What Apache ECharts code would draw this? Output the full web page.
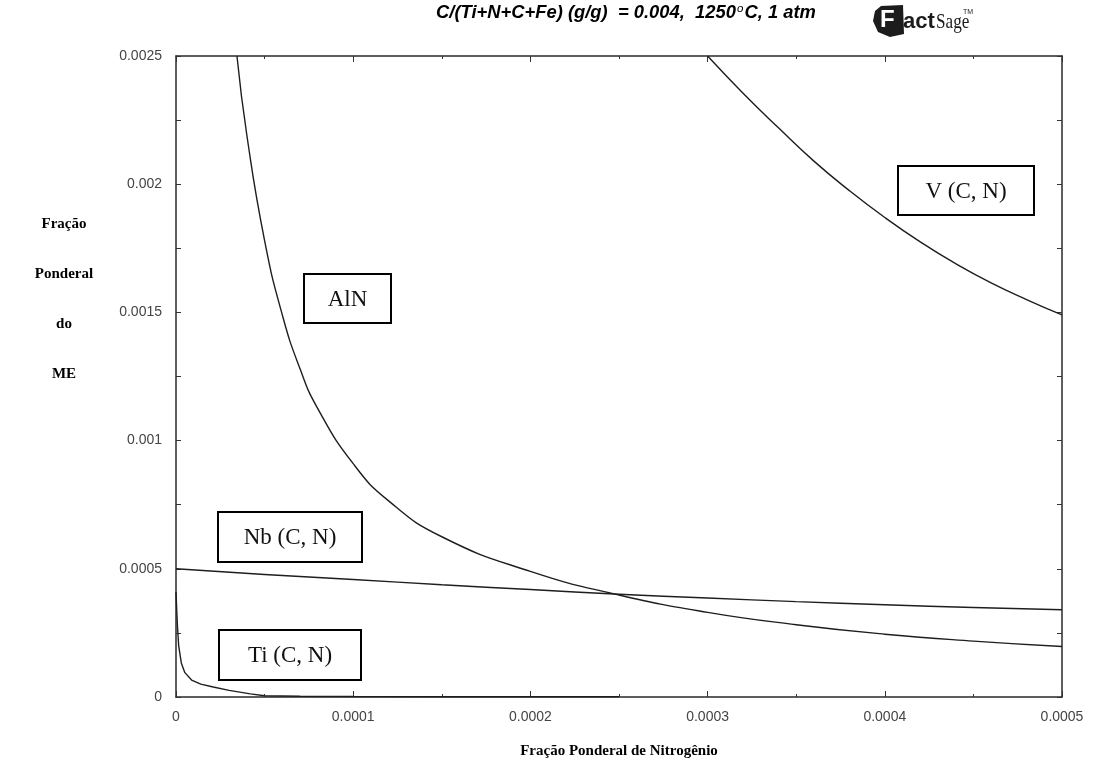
<!DOCTYPE html>
<html>
<head>
<meta charset="utf-8">
<script src="https://cdn.jsdelivr.net/npm/echarts@6/dist/echarts.min.js"></script>
<style>html,body{margin:0;padding:0;background:#fff;}#c{width:1093px;height:776px;}</style>
</head>
<body>
<div id="c"></div>
<script>
// ---- data ----
const xTickLabels = ['0', '0.0001', '0.0002', '0.0003', '0.0004', '0.0005'];
const yTickLabels = ['0', '0.0005', '0.001', '0.0015', '0.002', '0.0025'];

const vN   = [0.000300, 0.000320, 0.000340, 0.000360, 0.000380, 0.000400, 0.000420, 0.000440, 0.000460, 0.000480, 0.000500];
const vVal = [0.002500, 0.002355, 0.002220, 0.002090, 0.001975, 0.001870, 0.001775, 0.001690, 0.001615, 0.001550, 0.001490];

const alnN   = [0.0000344, 0.000040, 0.000050, 0.000060, 0.000070, 0.000080, 0.000100, 0.000120, 0.000150, 0.000200, 0.000250, 0.000300, 0.000350, 0.000400, 0.000450, 0.000500];
const alnVal = [0.002500, 0.002190, 0.001780, 0.001490, 0.001280, 0.001125, 0.000910, 0.000765, 0.000625, 0.000490, 0.000398, 0.000330, 0.000282, 0.000245, 0.000218, 0.000197];

const nbN   = [0, 0.00005, 0.00010, 0.00015, 0.00020, 0.00025, 0.00030, 0.00035, 0.00040, 0.00045, 0.00050];
const nbVal = [0.000500, 0.000478, 0.000458, 0.000438, 0.000419, 0.000401, 0.000386, 0.000372, 0.000360, 0.000349, 0.000340];

const tiN   = [0, 0.0000004, 0.0000008, 0.0000015, 0.000003, 0.000005, 0.0000088, 0.000014, 0.000021, 0.000030, 0.000042, 0.000050, 0.000070, 0.000100, 0.000150, 0.000250];
const tiVal = [0.000410, 0.000340, 0.000280, 0.000200, 0.000133, 0.000095, 0.000066, 0.000050, 0.000039, 0.000026, 0.000012, 0.000005, 0.000003, 0.000002, 0.000001, 0.000001];

const seriesNames = ['V (C, N)', 'AlN', 'Nb (C, N)', 'Ti (C, N)'];
const titleMain = 'C/(Ti+N+C+Fe) (g/g)  = 0.004,  1250';
const titleTail = 'C, 1 atm';
const yTitleLines = ['Fração', 'Ponderal', 'do', 'ME'];
const xTitle = 'Fração Ponderal de Nitrogênio';

function zip(a, b) { return a.map((x, i) => [x, b[i]]); }

const chart = echarts.init(document.getElementById('c'), null, {renderer: 'canvas'});
const lineColor = '#1e1e1e';
const labelFont = {fontFamily: 'Liberation Sans, Arial', fontSize: 14, color: '#444'};

function xAxisDef(pos, labels) {
  return {
    type: 'value', position: pos, min: 0, max: 0.0005, interval: 0.0001,
    axisLine: {show: true, onZero: false, lineStyle: {color: '#2a2a2a', width: 1.5}},
    axisTick: {show: true, inside: true, length: 6, lineStyle: {color: '#333'}},
    minorTick: {show: true, splitNumber: 2, length: 3, lineStyle: {color: '#333'}},
    splitLine: {show: false},
    axisLabel: labels ? Object.assign({show: true, margin: 13,
      formatter: v => xTickLabels[Math.round(v / 0.0001)]}, labelFont) : {show: false}
  };
}
function yAxisDef(pos, labels) {
  return {
    type: 'value', position: pos, min: 0, max: 0.0025, interval: 0.0005,
    axisLine: {show: true, onZero: false, lineStyle: {color: '#2a2a2a', width: 1.5}},
    axisTick: {show: true, inside: true, length: 5, lineStyle: {color: '#333'}},
    minorTick: {show: true, splitNumber: 2, length: 5, lineStyle: {color: '#333'}},
    splitLine: {show: false},
    axisLabel: labels ? Object.assign({show: true, margin: 14,
      formatter: v => yTickLabels[Math.round(v / 0.0005)]}, labelFont) : {show: false}
  };
}

function boxLabel(x, y, w, h, text) {
  return [
    {type: 'rect', shape: {x: x, y: y, width: w, height: h},
     style: {fill: '#fff', stroke: '#000', lineWidth: 2}, z: 10},
    {type: 'text', x: x + w / 2, y: y + h / 2 + 1,
     style: {text: text, fill: '#111', font: '23px "Liberation Serif", "Times New Roman", serif',
             textAlign: 'center', textVerticalAlign: 'middle'}, z: 11}
  ];
}

const serifBold = 'bold 15px "Liberation Serif", "Times New Roman", serif';

const graphics = [].concat(
  boxLabel(898, 166, 136, 49, seriesNames[0]),
  boxLabel(304, 274, 87, 49, seriesNames[1]),
  boxLabel(218, 512, 144, 50, seriesNames[2]),
  boxLabel(219, 630, 142, 50, seriesNames[3]),
  yTitleLines.map((t, i) => ({
    type: 'text', x: 64, y: 224 + i * 50,
    style: {text: t, fill: '#000', font: serifBold, textAlign: 'center', textVerticalAlign: 'middle'}
  })),
  [{
    type: 'text', x: 619, y: 751,
    style: {text: xTitle, fill: '#000', font: serifBold, textAlign: 'center', textVerticalAlign: 'middle'}
  },
  // title
  {
    type: 'text', x: 436, y: 3, scaleX: 1.05,
    style: {
      text: '{a|' + titleMain + '}{s|o}{a|' + titleTail + '}',
      rich: {
        a: {font: 'italic bold 17.5px "Liberation Sans", Arial', fill: '#000', lineHeight: 20},
        s: {font: 'italic 11px "Liberation Sans", Arial', fill: '#000', verticalAlign: 'top', lineHeight: 20, padding: [0, 1, 0, 1]}
      }
    }
  },
  // FactSage logo
  {type: 'polygon', shape: {points: [[875, 11], [881, 6], [903, 5], [904, 34], [890, 37], [878, 32], [873, 21]]},
   style: {fill: '#1c1c1c'}},
  {type: 'text', x: 880, y: 8,
   style: {text: 'F', fill: '#fff', font: 'bold 24px "Liberation Sans", Arial'}},
  {type: 'text', x: 903, y: 11,
   style: {text: 'act', fill: '#1c1c1c', font: 'bold 22px "Liberation Sans", Arial'}},
  {type: 'text', x: 936, y: 11, scaleX: 0.78,
   style: {text: 'Sage', fill: '#1c1c1c', font: '22px "Liberation Serif", serif'}},
  {type: 'text', x: 963, y: 9,
   style: {text: 'TM', fill: '#1c1c1c', font: '7px "Liberation Sans", Arial'}}
  ]
);

function lineSeries(name, data, smooth) {
  return {
    name: name, type: 'line', data: data, showSymbol: false, smooth: smooth,
    xAxisIndex: 0, yAxisIndex: 0, clip: true,
    lineStyle: {color: lineColor, width: 1.4}, z: 3, animation: false
  };
}

chart.setOption({
  animation: false,
  backgroundColor: '#fff',
  grid: {left: 176, top: 56, right: 31, bottom: 79, containLabel: false},
  xAxis: [xAxisDef('bottom', true), xAxisDef('top', false)],
  yAxis: [yAxisDef('left', true), yAxisDef('right', false)],
  series: [
    lineSeries(seriesNames[0], zip(vN, vVal), true),
    lineSeries(seriesNames[1], zip(alnN, alnVal), true),
    lineSeries(seriesNames[2], zip(nbN, nbVal), true),
    lineSeries(seriesNames[3], zip(tiN, tiVal), false)
  ],
  graphic: graphics
});
</script>
</body>
</html>
